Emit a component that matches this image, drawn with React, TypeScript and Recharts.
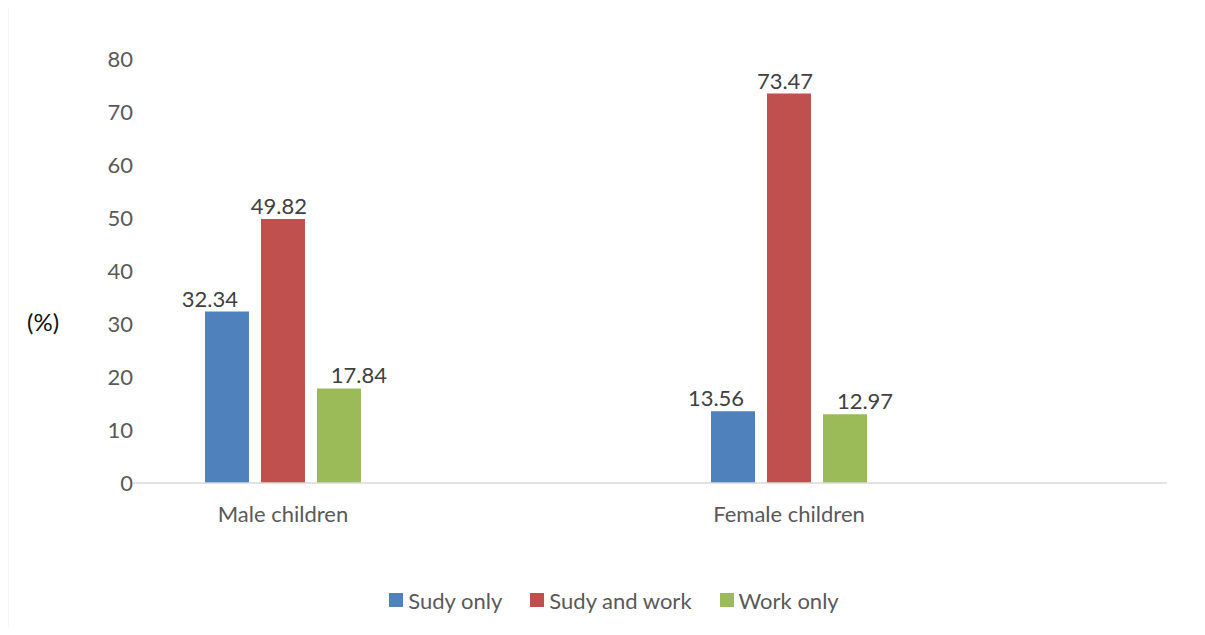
import React from "react";
import { BarChart, Bar, XAxis, YAxis, Legend, LabelList, Customized } from "recharts";

// groups on the x axis
const categories = ["Male children", "Female children"];

// series values (%)
const studyOnly = [32.34, 13.56];
const studyAndWork = [49.82, 73.47];
const workOnly = [17.84, 12.97];

const yTicks = [0, 10, 20, 30, 40, 50, 60, 70, 80];

const series = [
  { key: "studyOnly", name: "Sudy only", color: "#4F81BD", labelDx: -17 },
  { key: "studyAndWork", name: "Sudy and work", color: "#C0504D", labelDx: -4 },
  { key: "workOnly", name: "Work only", color: "#9BBB59", labelDx: 20 },
];

const chartData = categories.map((name, i) => ({
  pos: i,
  name,
  studyOnly: studyOnly[i],
  studyAndWork: studyAndWork[i],
  workOnly: workOnly[i],
}));

const FONT = "Lato, 'Open Sans', sans-serif";
const FS = 22;

const makeLabel = (dx: number) => (props: any) => {
  const { x, y, width, value } = props;
  return (
    <text
      x={Number(x) + Number(width) / 2 + dx}
      y={Number(y) - 5}
      textAnchor="middle"
      fill="#404040"
      fontSize={FS}
    >
      {Number(value).toFixed(2)}
    </text>
  );
};

const LegendContent = () => (
  <div
    style={{
      display: "flex",
      justifyContent: "center",
      alignItems: "center",
      gap: 28,
      height: 28,
      fontSize: FS,
      color: "#595959",
    }}
  >
    {series.map((s) => (
      <div key={s.key} style={{ display: "flex", alignItems: "center" }}>
        <span
          style={{
            display: "inline-block",
            width: 14,
            height: 14,
            background: s.color,
            marginRight: 5,
          }}
        />
        <span>{s.name}</span>
      </div>
    ))}
  </div>
);

// light frame round the chart area; only its left and top edges fall inside the picture
const Frame = () => (
  <g>
    <line x1={7.5} y1={6} x2={7.5} y2={635} stroke="#d9d9d9" strokeWidth={1.5} />
    <line x1={7} y1={6.5} x2={1205} y2={6.5} stroke="#d9d9d9" strokeWidth={1.5} />
  </g>
);

export default function App() {
  return (
    <div
      style={{
        position: "relative",
        margin: -8,
        width: 1205,
        height: 635,
        overflow: "hidden",
        background: "#fff",
        fontFamily: FONT,
      }}
    >
      <BarChart
        width={1205}
        height={635}
        data={chartData}
        margin={{ top: 59, right: 38, left: 20, bottom: 21 }}
        barGap={12}
        barSize={44}
      >
        <Customized component={<Frame />} />
        <XAxis
          dataKey="pos"
          type="number"
          domain={[-0.2964, 1.747]}
          allowDataOverflow
          ticks={[0, 1]}
          interval={0}
          tickFormatter={(v: number) => categories[v] ?? ""}
          tickLine={false}
          tickSize={0}
          tickMargin={23}
          axisLine={{ stroke: "#d9d9d9", strokeWidth: 1.5 }}
          tick={{ fill: "#595959", fontSize: FS }}
          height={103}
        />
        <YAxis
          type="number"
          domain={[0, 80]}
          ticks={yTicks}
          interval={0}
          axisLine={false}
          tickLine={false}
          tickSize={0}
          tickMargin={0}
          width={113}
          tick={{ fill: "#595959", fontSize: FS }}
          label={{
            value: "(%)",
            position: "insideLeft",
            offset: 7,
            dy: 51,
            fill: "#111",
            fontSize: 24,
          }}
        />
        <Legend
          verticalAlign="bottom"
          content={<LegendContent />}
          wrapperStyle={{ left: 0, width: 1228 }}
        />
        {series.map((s) => (
          <Bar
            key={s.key}
            dataKey={s.key}
            name={s.name}
            fill={s.color}
            isAnimationActive={false}
          >
            <LabelList dataKey={s.key} content={makeLabel(s.labelDx)} />
          </Bar>
        ))}
      </BarChart>
    </div>
  );
}
